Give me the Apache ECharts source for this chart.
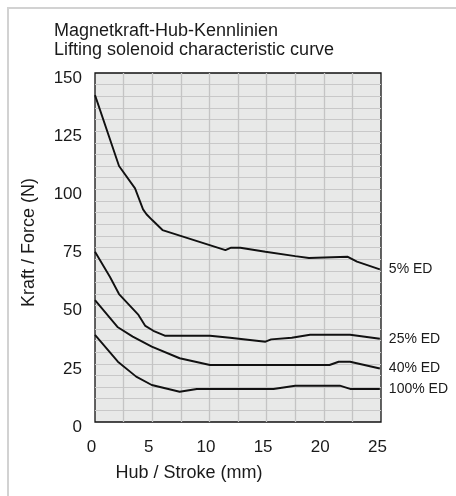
<!DOCTYPE html>
<html>
<head>
<meta charset="utf-8">
<script src="https://cdn.jsdelivr.net/npm/echarts@6/dist/echarts.min.js"></script>
<style>
  html, body { margin: 0; padding: 0; background: #ffffff; }
  #chart { width: 456px; height: 496px; }
</style>
</head>
<body>
<div id="chart"></div>
<script>
// Lifting solenoid force vs. stroke, one curve per duty cycle (ED)
const titleLines = ['Magnetkraft-Hub-Kennlinien', 'Lifting solenoid characteristic curve'];
const xAxisName = 'Hub / Stroke (mm)';
const yAxisName = 'Kraft / Force (N)';
const xTicks = [0, 5, 10, 15, 20, 25];
const yTicks = [0, 25, 50, 75, 100, 125, 150];

const seriesNames = ['5% ED', '25% ED', '40% ED', '100% ED'];

// stroke (mm) / force (N) for each duty cycle
const stroke5 = [0, 2.1, 3.5, 4.2, 4.5, 5.0, 5.9, 11.4, 11.9, 12.7, 14.9, 17.5, 18.7, 22.1, 22.9, 24.9];
const force5 = [140.5, 110, 100.4, 91.4, 89.3, 86.8, 82.5, 73.9, 74.9, 74.9, 73.2, 71.3, 70.5, 71.0, 68.9, 65.6];

const stroke25 = [0, 1.3, 2.1, 3.8, 4.4, 5.1, 6.1, 10.05, 11.8, 14.9, 15.4, 17.2, 18.8, 22.3, 24.9];
const force25 = [73.2, 62.4, 55.0, 46.0, 41.3, 39.2, 37.1, 37.1, 36.2, 34.5, 35.5, 36.2, 37.5, 37.5, 35.8];

const stroke40 = [0, 2.0, 3.3, 4.96, 7.4, 10.05, 20.5, 21.3, 22.3, 24.9];
const force40 = [52.4, 40.7, 36.7, 32.4, 27.4, 24.5, 24.5, 25.9, 25.9, 23.0];

const stroke100 = [0, 2.0, 3.6, 4.96, 7.4, 8.9, 15.6, 17.5, 21.4, 22.3, 24.9];
const force100 = [37.4, 25.9, 19.5, 15.9, 13.0, 14.2, 14.2, 15.6, 15.6, 14.2, 14.2];

const strokes = [stroke5, stroke25, stroke40, stroke100];
const forces = [force5, force25, force40, force100];

const TEXT = '#1a1a1a';
const FONT = '"Liberation Sans", Arial, sans-serif';

const xMin = xTicks[0], xMax = xTicks[xTicks.length - 1];
const yMin = yTicks[0], yMax = yTicks[yTicks.length - 1];

const chart = echarts.init(document.getElementById('chart'), null, { renderer: 'canvas' });

chart.setOption({
  backgroundColor: '#ffffff',
  animation: false,
  textStyle: { fontFamily: FONT },
  graphic: [{
    type: 'rect',
    silent: true,
    z: -10,
    shape: { x: 8, y: 8, width: 600, height: 600 },
    style: { fill: 'none', stroke: '#d2d2d2', lineWidth: 2 }
  }],
  title: {
    text: titleLines.join('\n'),
    left: 54,
    top: 22,
    padding: 0,
    textStyle: { fontFamily: FONT, fontSize: 18, fontWeight: 'normal', color: TEXT, lineHeight: 19 }
  },
  grid: {
    left: 95, top: 73, right: 75, bottom: 74,
    show: true,
    backgroundColor: '#e8e9e8',
    borderColor: '#111111',
    borderWidth: 1.3
  },
  xAxis: [{
    type: 'value',
    min: xMin, max: xMax, interval: 5,
    position: 'bottom',
    axisLine: { show: false },
    axisTick: { show: false },
    splitLine: { show: false },
    axisLabel: { fontFamily: FONT, fontSize: 17, color: TEXT, margin: 17, padding: [0, 7, 0, 0] },
    name: xAxisName,
    nameLocation: 'middle',
    nameGap: 42,
    nameTextStyle: { fontFamily: FONT, fontSize: 18, color: TEXT, padding: [0, 98, 0, 0] }
  }, {
    // fine vertical grid every 2.5 mm
    type: 'value',
    min: xMin, max: xMax, interval: 2.5,
    position: 'top',
    axisLine: { show: false },
    axisTick: { show: false },
    axisLabel: { show: false },
    splitLine: { show: true, showMinLine: false, showMaxLine: false, lineStyle: { color: '#c4c4c4', width: 1.3 } }
  }],
  yAxis: [{
    type: 'value',
    min: yMin, max: yMax, interval: 25,
    position: 'left',
    axisLine: { show: false },
    axisTick: { show: false },
    splitLine: { show: false },
    axisLabel: { fontFamily: FONT, fontSize: 17, color: TEXT, margin: 13, verticalAlign: 'top', lineHeight: 10 },
    name: yAxisName,
    nameLocation: 'middle',
    nameGap: 57,
    nameTextStyle: { fontFamily: FONT, fontSize: 18, color: TEXT, padding: [0, 0, 0, 10] }
  }, {
    // fine horizontal grid every 5 N
    type: 'value',
    min: yMin, max: yMax, interval: 5,
    position: 'right',
    axisLine: { show: false },
    axisTick: { show: false },
    axisLabel: { show: false },
    splitLine: { show: true, showMinLine: false, showMaxLine: false, lineStyle: { color: '#c8c8c8', width: 1.2 } }
  }],
  series: seriesNames.map((name, i) => ({
    name: name,
    type: 'line',
    xAxisIndex: 0,
    yAxisIndex: 0,
    symbol: 'none',
    smooth: false,
    lineStyle: { color: '#111111', width: 1.9 },
    data: strokes[i].map((x, j) => [x, forces[i][j]]),
    endLabel: {
      show: true,
      formatter: '{a}',
      distance: 9,
      fontFamily: FONT,
      fontSize: 14,
      color: TEXT
    }
  }))
});
</script>
</body>
</html>
